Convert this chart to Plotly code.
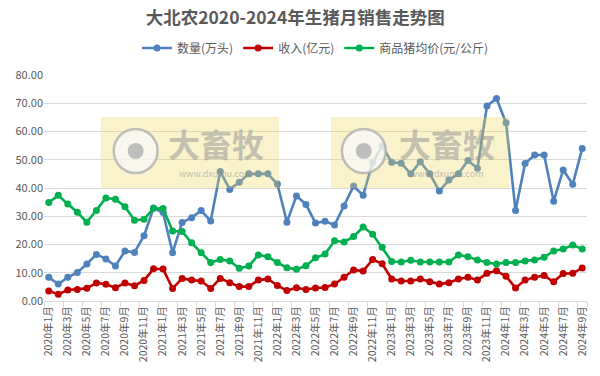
import plotly.graph_objects as go

months = [f"{y}年{m}月" for y in range(2020, 2025) for m in range(1, 13)][:57]

qty = [8.4, 6.0, 8.4, 10.1, 13.1, 16.5, 14.9, 12.4, 17.7, 17.2, 23.1, 32.9,
       31.3, 17.1, 27.8, 29.5, 32.0, 28.3, 45.8, 39.5, 42.0, 45.0, 45.0, 45.0,
       41.4, 27.9, 37.2, 34.2, 27.6, 28.2, 26.9, 33.6, 40.7, 37.4, 49.1, 54.9,
       49.1, 48.8, 45.0, 49.3, 45.0, 38.9, 42.8, 45.0, 49.7, 47.0, 69.0, 71.7,
       63.1, 32.0, 48.7, 51.7, 51.7, 35.3, 46.4, 41.3, 54.0]
revenue = [3.5, 2.4, 3.9, 4.1, 4.5, 6.4, 5.9, 4.7, 6.4, 5.4, 7.3, 11.4,
           11.3, 4.4, 8.0, 7.4, 7.1, 4.4, 8.0, 6.5, 5.1, 5.1, 7.4, 7.8,
           5.5, 3.7, 4.7, 4.1, 4.6, 4.8, 6.0, 8.4, 11.0, 10.6, 14.7, 13.2,
           7.8, 7.1, 7.1, 7.8, 6.8, 6.0, 6.5, 7.8, 8.4, 7.4, 9.8, 10.7,
           8.8, 4.6, 7.4, 8.4, 9.0, 6.8, 9.7, 9.8, 11.7]
price = [34.9, 37.4, 34.3, 31.4, 27.9, 32.0, 36.5, 36.0, 33.4, 28.6, 28.9, 32.8,
         32.7, 24.8, 24.6, 20.6, 17.1, 13.6, 14.7, 14.2, 11.6, 12.4, 16.3, 15.7,
         13.6, 11.8, 11.2, 12.5, 15.3, 16.6, 21.3, 20.9, 22.8, 26.2, 23.6, 19.0,
         14.0, 13.8, 14.4, 13.8, 13.8, 13.8, 13.8, 16.3, 15.7, 14.5, 13.6, 13.1,
         13.6, 13.6, 14.2, 14.5, 15.5, 17.7, 18.4, 19.8, 18.4]

series = [
    ("数量(万头)", qty, "#4f81bd"),
    ("收入(亿元)", revenue, "#c00000"),
    ("商品猪均价(元/公斤)", price, "#00b050"),
]

x = list(range(len(months)))
fig = go.Figure()
for name, vals, color in series:
    fig.add_trace(go.Scatter(
        x=x, y=vals, name=name, mode="lines+markers",
        line=dict(color=color, width=2.6),
        marker=dict(color=color, size=7),
        hovertext=months,
    ))

FONT = "Noto Sans CJK SC, Noto Sans, sans-serif"
GRAY = "#595959"

def px(xp):
    return (xp - 44) / 545

def py(yp):
    return (301 - yp) / 226

shapes = []
annotations = []
# watermarks
for (x0, x1, cx, tx) in [(101, 280, 136, 217), (332, 511, 365, 448)]:
    y0, y1 = 117, 188
    shapes.append(dict(type="rect", xref="paper", yref="paper",
                       x0=px(x0), x1=px(x1), y0=py(y1), y1=py(y0),
                       fillcolor="rgba(235,215,90,0.32)", line=dict(width=0),
                       layer="above"))
    r = 22
    shapes.append(dict(type="circle", xref="paper", yref="paper",
                       x0=px(cx - r), x1=px(cx + r), y0=py(151 + r), y1=py(151 - r),
                       fillcolor="rgba(248,248,248,0.75)",
                       line=dict(color="rgba(175,175,175,0.8)", width=2.5),
                       layer="above"))
    r2 = 8
    shapes.append(dict(type="circle", xref="paper", yref="paper",
                       x0=px(cx - r2), x1=px(cx + r2), y0=py(151 + r2), y1=py(151 - r2),
                       fillcolor="rgba(175,175,175,0.8)", line=dict(width=0),
                       layer="above"))
    annotations.append(dict(text="<b>大畜牧</b>", xref="paper", yref="paper",
                            x=px(tx), y=py(143), xanchor="center", yanchor="middle",
                            showarrow=False,
                            font=dict(size=32, color="rgba(150,150,150,0.55)", family=FONT)))
    annotations.append(dict(text="www.dxumu.com", xref="paper", yref="paper",
                            x=px(tx), y=py(173), xanchor="center", yanchor="middle",
                            showarrow=False,
                            font=dict(size=9, color="rgba(150,150,150,0.6)", family=FONT)))

fig.update_layout(
    width=600, height=376,
    margin=dict(l=44, r=11, t=75, b=75),
    paper_bgcolor="white", plot_bgcolor="white",
    font=dict(family=FONT, color=GRAY),
    title=dict(text="<b>大北农2020-2024年生猪月销售走势图</b>",
               x=0.492, xanchor="center", xref="container",
               y=1 - 18 / 376, yanchor="middle", yref="container",
               font=dict(size=17.5, color=GRAY, family=FONT)),
    legend=dict(orientation="h", x=0.5, xanchor="center", y=1 + 27 / 226,
                yanchor="middle", font=dict(size=12, color=GRAY),
                itemwidth=30, bgcolor="rgba(0,0,0,0)"),
    showlegend=True,
    shapes=shapes,
    annotations=annotations,
    hovermode="closest",
)
fig.update_xaxes(
    range=[-0.5, len(months) - 0.5],
    tickmode="array", tickvals=x[::2], ticktext=months[::2],
    tickangle=-90, tickfont=dict(size=10.5, color=GRAY),
    ticks="", showgrid=False, showline=True, linecolor="#d9d9d9", linewidth=1,
    minor=dict(tickmode="array", tickvals=[v - 0.5 for v in x[::2]] + [len(months) - 0.5],
               ticks="outside", ticklen=5, tickcolor="#d9d9d9", showgrid=False),
    zeroline=False,
)
fig.update_yaxes(
    range=[0, 80], dtick=10, tickformat=".2f",
    tickfont=dict(size=11, color=GRAY),
    showgrid=True, gridcolor="#d9d9d9", gridwidth=1,
    zeroline=False, showline=False, ticks="",
)
fig.write_html("out.html", config={"displayModeBar": False},
               post_script="document.body.style.margin='0';document.body.style.padding='0';")
